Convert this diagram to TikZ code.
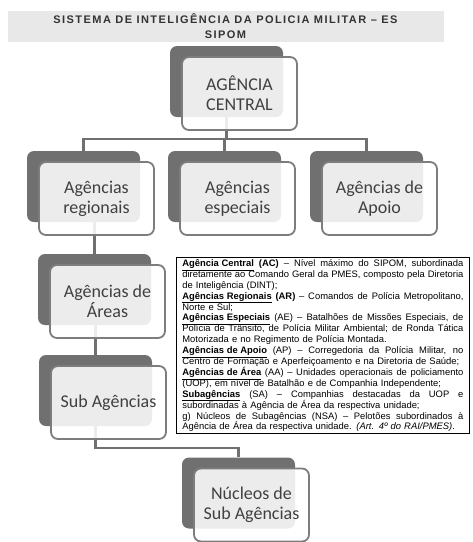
\documentclass[tikz,border=0pt]{standalone}
\usepackage{xcolor}
\usepackage{fontspec}
\newfontfamily\boxfont{Carlito}
\newfontfamily\notefont{Liberation Sans}
\newfontfamily\headfont[LetterSpace=13]{Liberation Sans}
\definecolor{boxdark}{RGB}{112,112,112}
\definecolor{boxline}{RGB}{125,125,125}
\definecolor{boxtext}{RGB}{64,64,64}
\definecolor{band}{RGB}{232,232,232}
\usepackage{tikz}
\usetikzlibrary{positioning}
\newcommand{\jline}[1]{\leavevmode\hbox to 281pt{\spaceskip=0.278em plus 1em minus 0.08em\relax#1}}

\begin{document}
\begin{tikzpicture}[x=1pt,y=-1pt,
  backbox/.style={rectangle,rounded corners=7pt,fill=boxdark,minimum width=113pt,minimum height=71pt,inner sep=0},
  frontbox/.style={rectangle,rounded corners=7pt,draw=boxline,line width=1.8pt,fill=white,fill opacity=0.87,text opacity=1,minimum width=115pt,minimum height=73pt,inner sep=0,align=center,text=boxtext,font=\boxfont\fontsize{18}{20}\selectfont},
  link/.style={draw=boxdark,line width=2.2pt}]
\useasboundingbox (0,0) rectangle (473,542);

%title band
\node (title) at (225.5,26) [fill=band,minimum width=436pt,minimum height=31pt,inner sep=0,align=center,text=black!80,font=\headfont\bfseries\fontsize{11}{15}\selectfont] {SISTEMA DE INTELIGÊNCIA DA POLICIA MILITAR – ES\\SIPOM};

%back boxes
\foreach \n/\x/\y in {cen/239.5/93.5, reg/96.5/198.5, esp/237.5/198.5, apo/379.5/198.5, are/107.5/301.5, sub/108.5/402.5, nuc/251.5/505}{
  \node (\n-b) at (\x-13,\y-12) [backbox] {};
}

%connectors
\coordinate (bus) at (0,139);
\coordinate (bus2) at (0,448);
\draw[link] (cen-b.south) -- (cen-b.south |- bus) -| (reg-b.north);
\draw[link] (cen-b.south |- bus) -| (esp-b.north);
\draw[link] (cen-b.south |- bus) -| (apo-b.north);
\draw[link] (reg-b.south -| are-b.north) -- (are-b.north);
\draw[link] (are-b.south -| sub-b.north) -- (sub-b.north);
\draw[link] (sub-b.south) -- (sub-b.south |- bus2) -| (nuc-b.north);

%front boxes
\foreach \n/\x/\y/\t in {cen/239.5/93.5/{AGÊNCIA\\CENTRAL}, reg/96.5/198.5/{Agências\\regionais}, esp/237.5/198.5/{Agências\\especiais}, apo/379.5/198.5/{Agências de\\Apoio}, are/107.5/301.5/{Agências de\\Áreas}, sub/108.5/402.5/{Sub Agências}, nuc/251.5/505/{Núcleos de\\Sub Agências}}{
  \node (\n-f) at (\x,\y) [frontbox] {\t};
}

%notes
\node (notes) at (176,257) [anchor=north west,draw,line width=0.8pt,fill=white,text width=281pt,inner xsep=6pt,inner ysep=2pt,align=left,font=\notefont\fontsize{9.4}{11}\selectfont] {%
\baselineskip=10.9pt\lineskiplimit=-3pt\relax
\jline{\textbf{\underline{Agência Central} (AC)} – Nível máximo do SIPOM, subordinada}\\
\jline{diretamente ao Comando Geral da PMES, composto pela Diretoria}\\
de Inteligência (DINT);\\
\jline{\textbf{\underline{Agências Regionais} (AR)} – Comandos de Polícia Metropolitano,}\\
Norte e Sul;\\
\jline{\textbf{\underline{Agências Especiais}} (AE) – Batalhões de Missões Especiais, de}\\
\jline{Polícia de Trânsito, de Polícia Militar Ambiental; de Ronda Tática}\\
Motorizada e no Regimento de Polícia Montada.\\
\jline{\textbf{\underline{Agências de Apoio}} (AP) – Corregedoria da Polícia Militar, no}\\
Centro de Formação e Aperfeiçoamento e na Diretoria de Saúde;\\
\jline{\textbf{\underline{Agências de Área}} (AA) – Unidades operacionais de policiamento}\\
(UOP), em nível de Batalhão e de Companhia Independente;\\
\jline{\textbf{\underline{Subagências}} (SA) – Companhias destacadas da UOP e}\\
subordinadas à Agência de Área da respectiva unidade;\\
\jline{g) Núcleos de Subagências (NSA) – Pelotões subordinados à}\\
Agência de Área da respectiva unidade. \textit{(Art. 4º do RAI/PMES)}.\par};

\end{tikzpicture}
\end{document}
